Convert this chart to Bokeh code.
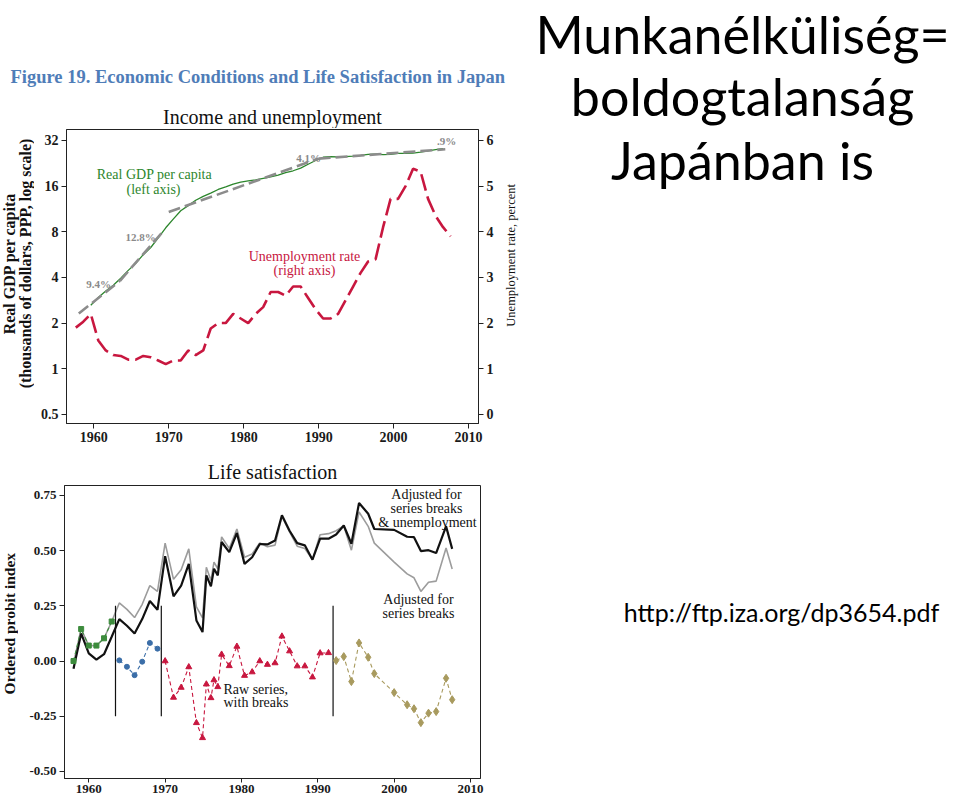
import math
from bokeh.plotting import figure
from bokeh.models import (Range1d, LinearAxis, LinearScale, FixedTicker, Label,
                          PrintfTickFormatter)
from bokeh.layouts import row, column
from bokeh.embed import file_html
from bokeh.resources import INLINE

SERIF = "Liberation Serif"
SANS = "Lato"

# ---------------- Top panel data: Income and unemployment ----------------
year_ticks = [1960, 1970, 1980, 1990, 2000, 2010]
gdp_ticks = [0.5, 1, 2, 4, 8, 16, 32]
unemp_ticks = [0, 1, 2, 3, 4, 5, 6]

unemp_year = list(range(1957, 2008))
unemp_rate = [1.9, 2.03, 2.2, 1.62, 1.4, 1.3, 1.28, 1.2, 1.2, 1.28, 1.25, 1.18, 1.1,
              1.18, 1.18, 1.4, 1.3, 1.4, 1.88, 2.0, 2.0, 2.2, 2.1, 2.0, 2.2, 2.35,
              2.68, 2.68, 2.6, 2.8, 2.8, 2.55, 2.3, 2.1, 2.1, 2.2, 2.5, 2.8, 3.1,
              3.35, 3.4, 4.1, 4.72, 4.72, 5.0, 5.38, 5.32, 4.72, 4.35, 4.1, 3.9]

gdp_year = list(range(1959, 2007))
gdp_value = [2.62, 2.95, 3.25, 3.55, 3.95, 4.45, 4.95, 5.65, 6.3, 7.3, 8.5, 9.7,
             11.0, 11.9, 12.9, 13.7, 14.4, 15.2, 15.8, 16.5, 17.0, 17.3, 17.6,
             18.0, 18.4, 18.9, 19.6, 20.2, 21.0, 22.3, 23.6, 24.8, 25.0, 24.9,
             25.0, 25.2, 25.5, 25.9, 26.0, 25.8, 25.9, 26.3, 26.3, 26.4, 26.8,
             27.3, 27.8, 28.3]

trend_label = ["9.4%", "12.8%", "4.1%", ".9%"]
trend_start_year = [1958.0, 1963.5, 1970.0, 1990.0]
trend_end_year = [1963.5, 1969.2, 1990.0, 2006.9]
trend_start_gdp = [2.31, 3.80, 10.8, 24.3]
trend_end_gdp = [3.80, 8.0, 24.3, 28.0]

MID_YEAR = 0.6  # annual observations drawn part-way into the year

# ---------------- Bottom panel data: Life satisfaction ----------------
raw1_x = [1958.0, 1959.0, 1960.0, 1961.0, 1962.0, 1963.0]
raw1_y = [0.0, 0.145, 0.07, 0.07, 0.103, 0.179]
raw2_x = [1964.0, 1965.0, 1966.0, 1967.0, 1968.0, 1969.0]
raw2_y = [0.003, -0.026, -0.064, -0.003, 0.082, 0.056]
raw3_x = [1970.0, 1971.1, 1972.1, 1973.1, 1974.1, 1974.9, 1975.4, 1976.0, 1976.4,
          1976.9, 1977.4, 1978.4, 1979.4, 1980.4, 1981.4, 1982.4, 1983.4, 1984.4,
          1985.3, 1986.3, 1987.3, 1988.3, 1989.3, 1990.3, 1991.4]
raw3_y = [0.0, -0.165, -0.12, -0.027, -0.28, -0.348, -0.105, -0.167, -0.086,
          -0.117, 0.03, -0.022, 0.066, -0.066, -0.05, 0.0, -0.016, -0.009,
          0.112, 0.045, -0.023, -0.023, -0.073, 0.036, 0.037]
raw4_x = [1992.4, 1993.4, 1994.4, 1995.4, 1996.6, 1997.4, 2000.0, 2001.7, 2002.6,
          2003.5, 2004.5, 2005.5, 2006.8, 2007.6]
raw4_y = [0.002, 0.02, -0.093, 0.082, 0.017, -0.057, -0.143, -0.198, -0.216,
          -0.279, -0.236, -0.229, -0.078, -0.175]

adj_breaks = [-0.01, 0.145, 0.07, 0.07, 0.103, 0.179,
              0.263, 0.234, 0.197, 0.257, 0.342, 0.315,
              0.534, 0.37, 0.413, 0.508, 0.245, 0.195, 0.425, 0.365, 0.448,
              0.418, 0.562, 0.51, 0.598, 0.47, 0.485, 0.535, 0.518, 0.525,
              0.655, 0.585, 0.52, 0.51, 0.46, 0.572, 0.577,
              0.59, 0.612, 0.502, 0.675, 0.61, 0.534, 0.448, 0.395, 0.377,
              0.315, 0.357, 0.362, 0.512, 0.417]
adj_breaks_unemp = [-0.035, 0.125, 0.035, 0.006, 0.031, 0.11,
                    0.19, 0.16, 0.125, 0.19, 0.272, 0.232,
                    0.475, 0.293, 0.342, 0.44, 0.184, 0.131, 0.388, 0.338, 0.418,
                    0.388, 0.539, 0.493, 0.58, 0.44, 0.47, 0.53, 0.528, 0.546,
                    0.66, 0.59, 0.534, 0.524, 0.459, 0.554, 0.554,
                    0.573, 0.614, 0.531, 0.716, 0.667, 0.598, 0.594, 0.563, 0.561,
                    0.498, 0.502, 0.489, 0.61, 0.508]

break_year = [1963.5, 1969.5, 1992.0]
break_low = [-0.25, -0.25, -0.25]
break_high = [0.25, 0.25, 0.25]

prob_ticks = [-0.5, -0.25, 0.0, 0.25, 0.5, 0.75]

# ---------------- colours ----------------
GREEN = "#2c862c"
TREND = "#8c8c8c"
CRIMSON = "#c8173f"
BLUE = "#3b6ea8"
OLIVE = "#a89a5e"
RAWGREEN = "#3d8c3d"


def style_axis(ax, size="13px"):
    ax.axis_line_color = "#222222"
    ax.axis_line_width = 1
    ax.major_tick_line_color = "#222222"
    ax.major_tick_out = 5
    ax.major_tick_in = 0
    ax.minor_tick_line_color = None
    ax.major_label_text_font = SERIF
    ax.major_label_text_font_size = size
    ax.major_label_text_font_style = "bold"
    ax.major_label_text_color = "#1a1a1a"
    ax.major_label_standoff = 3


def add_text(p, x, y, text, size, color="#111111", font=SERIF, align="center",
             baseline="middle", angle=0.0, style="normal"):
    p.add_layout(Label(x=x, y=y, text=text, text_font=font,
                       text_font_size=f"{size}px", text_color=color,
                       text_align=align, text_baseline=baseline, angle=angle,
                       text_font_style=style))


def text_canvas(x0, y0, w, h):
    """A blank strip whose data units are page pixels (y downwards)."""
    f = figure(width=w, height=h, x_range=Range1d(x0, x0 + w), y_range=Range1d(y0 + h, y0),
               output_backend="svg", toolbar_location=None, min_border=0,
               x_axis_location=None, y_axis_location=None)
    f.title.visible = False
    f.outline_line_color = None
    f.xgrid.visible = False
    f.ygrid.visible = False
    return f


# ======================= Top chart =======================
FR1_L, FR1_T, FR1_W, FR1_H = 66, 129, 412, 294   # frame on the page
TX0, TX1 = 1956.36, 2011.33
LY0, LY1 = -1.2, 5.24

P1_X, P1_Y, P1_W, P1_H = 34, 128, 466, 327
p1 = figure(width=P1_W, height=P1_H, x_range=Range1d(TX0, TX1),
            y_range=Range1d(2 ** LY0, 2 ** LY1), y_axis_type="log",
            output_backend="svg", toolbar_location=None,
            min_border_left=FR1_L - P1_X, min_border_right=P1_X + P1_W - FR1_L - FR1_W,
            min_border_top=FR1_T - P1_Y, min_border_bottom=P1_Y + P1_H - FR1_T - FR1_H)
p1.title.visible = False
p1.extra_y_ranges = {"u": Range1d(LY0 + 1, LY1 + 1)}
p1.extra_y_scales = {"u": LinearScale()}
p1.xgrid.grid_line_color = None
p1.ygrid.grid_line_color = None
p1.outline_line_color = "#222222"
p1.outline_line_alpha = 1.0

p1.xaxis.ticker = FixedTicker(ticks=year_ticks)
p1.yaxis.ticker = FixedTicker(ticks=gdp_ticks)
p1.yaxis.major_label_overrides = {0.5: "0.5", 1: "1", 2: "2", 4: "4", 8: "8", 16: "16", 32: "32"}
for ax in p1.xaxis + p1.yaxis:
    style_axis(ax, "14px")

rax = LinearAxis(y_range_name="u", ticker=FixedTicker(ticks=unemp_ticks))
style_axis(rax, "14px")
p1.add_layout(rax, "right")

p1.line([y + MID_YEAR for y in gdp_year], gdp_value, line_color=GREEN, line_width=1.3)
p1.multi_line(xs=[[a, b] for a, b in zip(trend_start_year, trend_end_year)],
              ys=[[a, b] for a, b in zip(trend_start_gdp, trend_end_gdp)],
              line_color=TREND, line_width=2.6, line_dash="12 5")
p1.line([y + MID_YEAR for y in unemp_year], unemp_rate, y_range_name="u",
        line_color=CRIMSON, line_width=2.6, line_dash="17 6")


def tlabel(px, py, text, size, **kw):
    x = TX0 + (px - FR1_L) / FR1_W * (TX1 - TX0)
    y = 2 ** (LY1 - (py - FR1_T) / FR1_H * (LY1 - LY0))
    add_text(p1, x, y, text, size, **kw)


tlabel(154, 174, "Real GDP per capita", 14, color=GREEN)
tlabel(153, 189, "(left axis)", 14, color=GREEN)
tlabel(304, 256, "Unemployment rate", 14, color=CRIMSON)
tlabel(304, 270, "(right axis)", 14, color=CRIMSON)
label_px = [(98, 283), (140, 236), (308, 157), (446, 140)]
for (lx, ly), t in zip(label_px, trend_label):
    tlabel(lx, ly, t, 11, color="#8a8a8a", style="bold")

head1 = text_canvas(0, 0, 520, P1_Y)
add_text(head1, 10, 76, "Figure 19. Economic Conditions and Life Satisfaction in Japan", 18.5,
         color="#4f7db8", align="left", style="bold")
add_text(head1, 272, 116, "Income and unemployment", 20)

left1 = text_canvas(0, P1_Y, P1_X, P1_H)
add_text(left1, 9, 277, "Real GDP per capita", 16, angle=math.pi / 2, style="bold")
add_text(left1, 25, 277, "(thousands of dollars, PPP, log scale)", 16, angle=math.pi / 2,
         style="bold")

right1 = text_canvas(P1_X + P1_W, P1_Y, 520 - P1_X - P1_W, P1_H)
add_text(right1, 510, 268, "Unemployment rate, percent", 12.5, angle=math.pi / 2)

# ======================= Bottom chart =======================
FR2_L, FR2_T, FR2_W, FR2_H = 64, 485, 416, 293
BX0, BX1 = 1956.82, 2011.31
BY0, BY1 = -0.532, 0.795

HEAD2_Y = P1_Y + P1_H           # 455
P2_X, P2_Y, P2_W, P2_H = 18, 484, 502, 316
p2 = figure(width=P2_W, height=P2_H, x_range=Range1d(BX0, BX1), y_range=Range1d(BY0, BY1),
            output_backend="svg", toolbar_location=None,
            min_border_left=FR2_L - P2_X, min_border_right=P2_X + P2_W - FR2_L - FR2_W,
            min_border_top=FR2_T - P2_Y, min_border_bottom=P2_Y + P2_H - FR2_T - FR2_H)
p2.title.visible = False
p2.xgrid.grid_line_color = None
p2.ygrid.grid_line_color = None
p2.outline_line_color = "#222222"
p2.outline_line_alpha = 1.0
p2.xaxis.ticker = FixedTicker(ticks=year_ticks)
p2.yaxis.ticker = FixedTicker(ticks=prob_ticks)
p2.yaxis.formatter = PrintfTickFormatter(format="%.2f")
for ax in p2.xaxis + p2.yaxis:
    style_axis(ax, "13px")
p2.xaxis.major_tick_out = 4
p2.xaxis.major_label_standoff = 2

adj_x = raw1_x + raw2_x + raw3_x + raw4_x
p2.line(adj_x, adj_breaks, line_color="#9c9c9c", line_width=1.6)
p2.line(adj_x, adj_breaks_unemp, line_color="#111111", line_width=2.2)
p2.segment(x0=break_year, y0=break_low, x1=break_year, y1=break_high,
           line_color="#111111", line_width=1.2)

for xs, ys, col, mk, sz in [(raw1_x, raw1_y, RAWGREEN, "square", 5),
                            (raw2_x, raw2_y, BLUE, "circle", 5),
                            (raw3_x, raw3_y, CRIMSON, "triangle", 6),
                            (raw4_x, raw4_y, OLIVE, "diamond", 8)]:
    p2.line(xs, ys, line_color=col, line_width=1.1, line_dash="4 3")
    p2.scatter(xs, ys, marker=mk, size=sz, fill_color=col, line_color=col)


def blabel(px, py, text, size, **kw):
    x = BX0 + (px - FR2_L) / FR2_W * (BX1 - BX0)
    y = BY1 - (py - FR2_T) / FR2_H * (BY1 - BY0)
    add_text(p2, x, y, text, size, **kw)


blabel(426, 494, "Adjusted for", 14)
blabel(426, 508, "series breaks", 14)
blabel(427, 522, "& unemployment", 14)
blabel(418, 599, "Adjusted for", 14)
blabel(418, 613, "series breaks", 14)
blabel(223, 689, "Raw series,", 14, align="left")
blabel(223, 702, "with breaks", 14, align="left")

head2 = text_canvas(0, HEAD2_Y, 520, P2_Y - HEAD2_Y)
add_text(head2, 272, 471, "Life satisfaction", 20)

left2 = text_canvas(0, P2_Y, P2_X, P2_H)
add_text(left2, 9, 633, "Ordered probit index", 15.5, angle=math.pi / 2, style="bold")

# ======================= Right text panel =======================
p3 = text_canvas(520, 0, 440, 800)
add_text(p3, 742, 33, "Munkanélküliség=", 52, color="#000000", font=SANS)
add_text(p3, 742, 95, "boldogtalanság", 52, color="#000000", font=SANS)
add_text(p3, 742, 159, "Japánban is", 52, color="#000000", font=SANS)
add_text(p3, 781, 611, "http://ftp.iza.org/dp3654.pdf", 25, color="#000000", font=SANS)

left_col = column(head1, row(left1, p1, right1), head2, row(left2, p2))
layout = row(left_col, p3)

with open("out.html", "w") as f:
    f.write(file_html(layout, INLINE))
